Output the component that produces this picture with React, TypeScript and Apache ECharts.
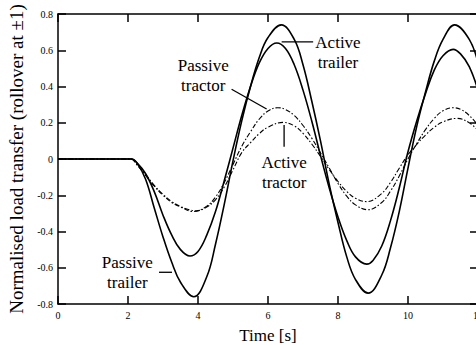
import React, { useEffect, useRef } from "react";
import * as echarts from "echarts";

// Each curve: its own time samples (s) and values
const tPassiveTrailer = [0, 2, 2.1, 2.25, 2.5, 2.75, 3, 3.25, 3.5, 3.88, 4.25, 4.5, 4.75, 5, 5.25, 5.5, 5.75, 6, 6.38, 6.75, 7, 7.25, 7.5, 7.75, 8, 8.25, 8.5, 8.86, 9.25, 9.5, 9.75, 10, 10.25, 10.5, 10.75, 11, 11.33, 11.75, 12];
const passiveTrailer = [0, 0, 0, -0.02, -0.11, -0.27, -0.43, -0.57, -0.68, -0.76, -0.65, -0.47, -0.25, -0.01, 0.21, 0.4, 0.56, 0.67, 0.74, 0.66, 0.52, 0.32, 0.1, -0.14, -0.35, -0.54, -0.665, -0.74, -0.64, -0.49, -0.29, -0.05, 0.18, 0.37, 0.54, 0.66, 0.74, 0.66, 0.53];

const tActiveTrailer = [0, 2, 2.1, 2.25, 2.5, 2.75, 3, 3.25, 3.5, 3.77, 4, 4.25, 4.5, 4.75, 5, 5.25, 5.5, 5.75, 6, 6.25, 6.5, 6.75, 7, 7.25, 7.5, 7.75, 8, 8.25, 8.5, 8.82, 9, 9.25, 9.5, 9.75, 10, 10.25, 10.5, 10.75, 11, 11.29, 11.5, 11.75, 12];
const activeTrailer = [0, 0, 0, -0.02, -0.08, -0.18, -0.31, -0.42, -0.5, -0.535, -0.51, -0.42, -0.29, -0.12, 0.06, 0.24, 0.4, 0.53, 0.61, 0.64, 0.61, 0.52, 0.38, 0.21, 0.02, -0.16, -0.32, -0.45, -0.54, -0.58, -0.56, -0.48, -0.34, -0.16, 0.04, 0.21, 0.36, 0.49, 0.57, 0.605, 0.58, 0.51, 0.38];

const tPassiveTractor = [0, 2, 2.1, 2.25, 2.5, 2.75, 3, 3.25, 3.5, 3.87, 4.25, 4.5, 4.75, 5, 5.25, 5.5, 5.75, 6, 6.28, 6.5, 6.75, 7, 7.25, 7.5, 7.75, 8, 8.25, 8.5, 8.85, 9.25, 9.5, 9.75, 10, 10.25, 10.5, 10.75, 11, 11.29, 11.5, 11.75, 12];
const passiveTractor = [0, 0, 0, -0.03, -0.09, -0.15, -0.2, -0.24, -0.265, -0.29, -0.26, -0.21, -0.13, -0.03, 0.07, 0.15, 0.22, 0.265, 0.283, 0.273, 0.24, 0.185, 0.115, 0.034, -0.05, -0.135, -0.205, -0.253, -0.28, -0.24, -0.177, -0.094, 0, 0.085, 0.162, 0.224, 0.266, 0.283, 0.274, 0.24, 0.185];

const tActiveTractor = [0, 2, 2.1, 2.25, 2.5, 2.75, 3, 3.25, 3.5, 3.75, 3.95, 4.25, 4.5, 4.75, 5, 5.25, 5.5, 5.75, 6, 6.44, 6.75, 7, 7.25, 7.5, 7.75, 8, 8.25, 8.5, 8.82, 9.25, 9.5, 9.75, 10, 10.25, 10.5, 10.75, 11, 11.39, 11.75, 12];
const activeTractor = [0, 0, 0, -0.03, -0.085, -0.145, -0.195, -0.235, -0.262, -0.28, -0.286, -0.265, -0.225, -0.155, -0.06, 0.035, 0.09, 0.14, 0.176, 0.202, 0.183, 0.142, 0.083, 0.014, -0.058, -0.124, -0.179, -0.217, -0.235, -0.19, -0.129, -0.051, 0.024, 0.081, 0.132, 0.175, 0.205, 0.224, 0.2, 0.156];

// annotation labels: text and anchor [time, value]
const labelTexts = ["Active\ntrailer", "Passive\ntractor", "Active\ntractor", "Passive\ntrailer"];
const labelAt = [
  [8.0, 0.59],
  [4.15, 0.458],
  [6.46, -0.076],
  [1.98, -0.627],
];
// leader lines: [t1, v1, t2, v2]
const leaders = [
  [6.39, 0.646, 7.29, 0.646],
  [4.96, 0.385, 5.96, 0.276],
  [6.46, 0.188, 6.46, 0.068],
  [2.886, -0.625, 3.257, -0.625],
];

const FONT = "Liberation Serif";

export default function App() {
  const ref = useRef<HTMLDivElement>(null);
  useEffect(() => {
    const chart = echarts.init(ref.current!, null, { renderer: "svg" });
    const pair = (ts: number[], ys: number[]) => ts.map((t, i) => [t, ys[i]]);
    const solid = { color: "#000", width: 1.6 };
    const dashdot = { color: "#000", width: 1.1, type: [5, 2, 1.5, 2] as any };
    const lineCol = { color: "#000", width: 1.5 };
    const tick = { show: true, inside: true, length: 8, lineStyle: lineCol };
    const labelStyle = { fontFamily: FONT, fontSize: 10, color: "#000" };
    const mk = (name: string, ts: number[], ys: number[], ls: any) => ({
      name,
      type: "line",
      data: pair(ts, ys),
      smooth: 0.4,
      symbol: "none",
      lineStyle: ls,
      xAxisIndex: 0,
      yAxisIndex: 0,
    });
    chart.setOption({
      animation: false,
      grid: { left: 58, right: -2, top: 14, bottom: 41, containLabel: false, outerBoundsMode: "none" },
      xAxis: [
        {
          type: "value",
          min: 0,
          max: 12,
          interval: 2,
          position: "bottom",
          axisLine: { show: true, onZero: false, lineStyle: lineCol },
          axisTick: tick,
          splitLine: { show: false },
          axisLabel: { ...labelStyle, margin: 6 },
          name: "Time [s]",
          nameLocation: "middle",
          nameGap: 23,
          nameTextStyle: { fontFamily: FONT, fontSize: 17, color: "#000", verticalAlign: "top" },
        },
        {
          type: "value",
          min: 0,
          max: 12,
          interval: 2,
          position: "top",
          axisLine: { show: true, onZero: false, lineStyle: lineCol },
          axisTick: tick,
          splitLine: { show: false },
          axisLabel: { show: false },
        },
      ],
      yAxis: [
        {
          type: "value",
          min: -0.8,
          max: 0.8,
          interval: 0.2,
          position: "left",
          axisLine: { show: true, onZero: false, lineStyle: lineCol },
          axisTick: tick,
          splitLine: { show: false },
          axisLabel: { ...labelStyle, margin: 5 },
          name: "Normalised load transfer (rollover at \u00b11)",
          nameLocation: "middle",
          nameGap: 25,
          nameTextStyle: { fontFamily: FONT, fontSize: 19, color: "#000" },
        },
        {
          type: "value",
          min: -0.8,
          max: 0.8,
          interval: 0.2,
          position: "right",
          axisLine: { show: true, onZero: false, lineStyle: lineCol },
          axisTick: tick,
          splitLine: { show: false },
          axisLabel: { show: false },
        },
      ],
      series: [
        mk("Passive trailer", tPassiveTrailer, passiveTrailer, solid),
        mk("Active trailer", tActiveTrailer, activeTrailer, solid),
        mk("Passive tractor", tPassiveTractor, passiveTractor, dashdot),
        mk("Active tractor", tActiveTractor, activeTractor, dashdot),
      ],
    });
    const px = (t: number, v: number) =>
      chart.convertToPixel({ xAxisIndex: 0, yAxisIndex: 0 }, [t, v]) as number[];
    const graphics: any[] = [];
    labelTexts.forEach((txt, i) => {
      const p = px(labelAt[i][0], labelAt[i][1]);
      graphics.push({
        type: "text",
        x: p[0],
        y: p[1],
        style: {
          text: txt,
          fontFamily: FONT,
          fontSize: 17,
          lineHeight: 20,
          fill: "#000",
          align: "center",
          verticalAlign: "middle",
          textAlign: "center",
          textVerticalAlign: "middle",
        },
      });
    });
    leaders.forEach((l) => {
      const a = px(l[0], l[1]);
      const b = px(l[2], l[3]);
      graphics.push({
        type: "line",
        shape: { x1: a[0], y1: a[1], x2: b[0], y2: b[1] },
        style: { stroke: "#000", lineWidth: 1.3 },
      });
    });
    chart.setOption({ graphic: graphics });
    return () => chart.dispose();
  }, []);
  return (
    <div
      ref={ref}
      style={{ position: "fixed", left: 0, top: 0, width: 476, height: 345, background: "#fff" }}
    />
  );
}
